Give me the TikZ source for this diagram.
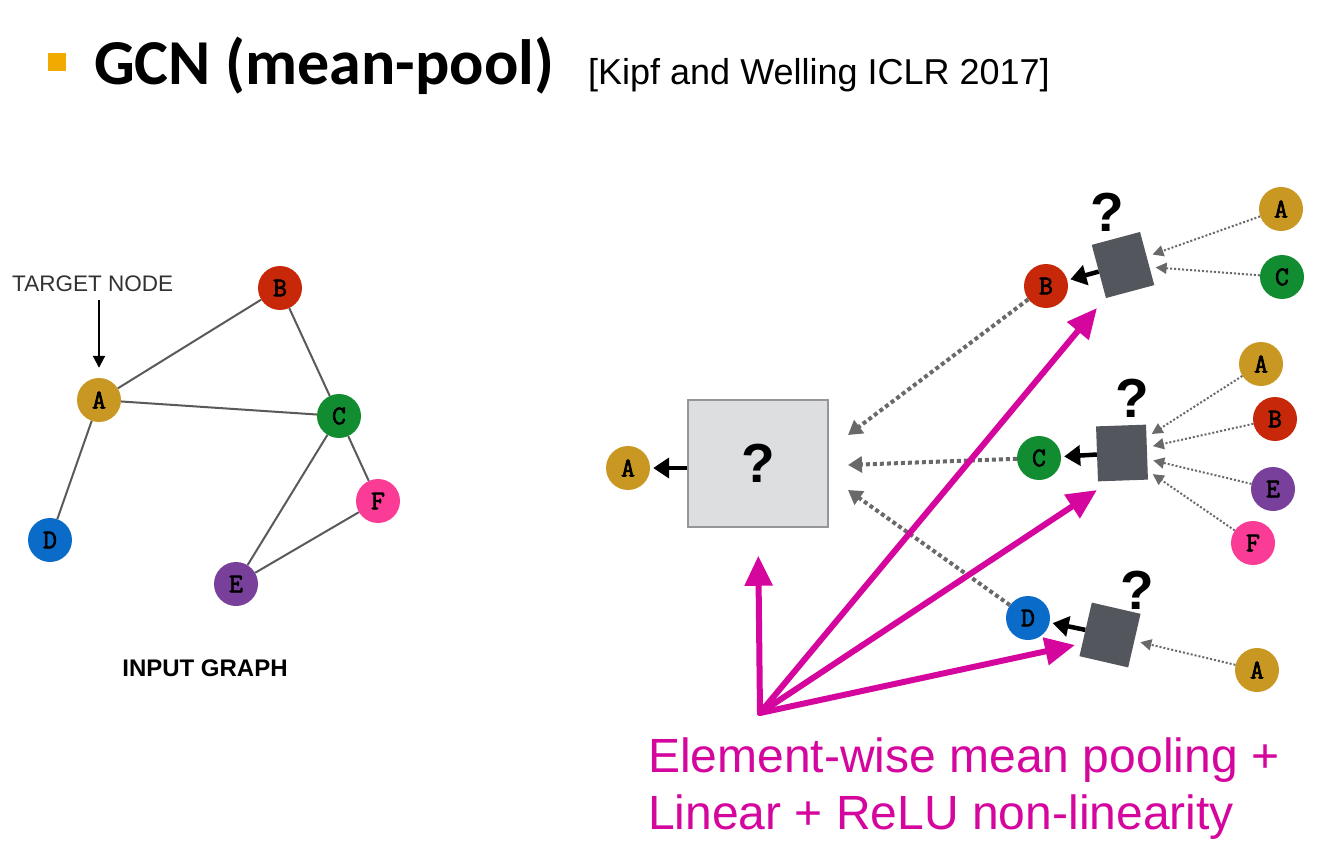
\documentclass[tikz,border=0pt]{standalone}
\usepackage{fontspec}
\setmainfont{Liberation Sans}
\newfontfamily\carl{Carlito}
\newfontfamily\courb[FakeBold=2.5]{Latin Modern Mono}
\usetikzlibrary{arrows.meta}
\definecolor{cA}{RGB}{201,152,35}
\definecolor{cB}{RGB}{200,40,10}
\definecolor{cC}{RGB}{18,140,48}
\definecolor{cD}{RGB}{10,108,200}
\definecolor{cE}{RGB}{120,64,155}
\definecolor{cF}{RGB}{250,60,150}
\definecolor{pinkc}{RGB}{212,6,158}
\definecolor{bulletc}{RGB}{240,170,0}
\definecolor{darkbox}{RGB}{83,86,92}
\definecolor{boxfill}{RGB}{220,222,224}
\definecolor{boxborder}{RGB}{150,150,150}
\definecolor{edgec}{RGB}{90,90,90}
\definecolor{dotc}{RGB}{105,105,105}
\definecolor{targetc}{RGB}{50,50,50}
\begin{document}
\begin{tikzpicture}[x=1pt,y=-1pt,
  gnode/.style={circle,minimum size=44pt,inner sep=0pt,font=\courb\fontsize{27}{27}\selectfont},
  gedge/.style={draw=edgec,line width=2pt},
  sbox/.style={fill=darkbox,minimum width=50pt,minimum height=55pt,inner sep=0pt},
  qmark/.style={inner sep=0pt,font=\bfseries\fontsize{55}{55}\selectfont},
  sdot/.style={draw=dotc,line width=2pt,dash pattern=on 2pt off 2pt,-{Triangle[length=11pt,width=11pt]},shorten >=6pt},
  bdot/.style={draw=dotc,line width=4pt,dash pattern=on 4pt off 3pt,-{Triangle[length=14pt,width=16pt]}},
  barrow/.style={draw=black,line width=4.5pt,-{Triangle[length=16pt,width=20pt]}},
  parrow/.style={draw=pinkc,line width=6pt,-{Triangle[length=30pt,width=27pt]}}
]
\useasboundingbox[fill=white] (0,0) rectangle (1342,861);

% title
\node[fill=bulletc,minimum size=18pt,inner sep=0pt] (bullet) at (57,62) {};
\node[anchor=base west,inner sep=0pt,font=\carl\bfseries\fontsize{64}{70}\selectfont] (title) at (94,85) {GCN (mean-pool)};
\node[anchor=base west,inner sep=0pt,font=\fontsize{36}{40}\selectfont] (cite) at (588,85) {[Kipf and Welling ICLR 2017]};

% input graph
\node[gnode,fill=cA] (lA) at (99,400) {A};
\node[gnode,fill=cB] (lB) at (280,288) {B};
\node[gnode,fill=cC] (lC) at (339,416) {C};
\node[gnode,fill=cD] (lD) at (50,540) {D};
\node[gnode,fill=cE] (lE) at (236,584) {E};
\node[gnode,fill=cF] (lF) at (378,501) {F};
\draw[gedge] (lA) -- (lB);
\draw[gedge] (lA) -- (lC);
\draw[gedge] (lA) -- (lD);
\draw[gedge] (lB) -- (lC);
\draw[gedge] (lC) -- (lE);
\draw[gedge] (lC) -- (lF);
\draw[gedge] (lE) -- (lF);

\node[anchor=base west,inner sep=0pt,text=targetc,font=\fontsize{22.5}{24}\selectfont] (target) at (12,291) {TARGET NODE};
\draw[line width=2pt,-{Triangle[length=12pt,width=12pt]},shorten <=9pt,shorten >=10pt] (target.south -| lA.north) -- (lA.north);
\node[inner sep=0pt,font=\bfseries\fontsize{24}{24}\selectfont] (inlabel) at (205,668) {INPUT GRAPH};

% computation graph
\node[draw=boxborder,fill=boxfill,line width=1.5pt,minimum width=140pt,minimum height=127pt,inner sep=0pt,qmark] (big) at (758,463.5) {?};
\node[gnode,fill=cA] (rA) at (628,468) {A};
\draw[barrow,shorten >=3pt] (big.west |- rA) -- (rA);

\node[gnode,fill=cB] (rB) at (1046,286) {B};
\node[gnode,fill=cC] (rC) at (1039,458) {C};
\node[gnode,fill=cD] (rD) at (1028,618) {D};

\node[sbox,rotate=15] (s1) at (1123,265) {};
\node[sbox,rotate=2] (s2) at (1122,453) {};
\node[sbox,rotate=-13] (s3) at (1110,635) {};
\node[qmark] (q1) at (1107,212) {?};
\node[qmark] (q2) at (1132,398) {?};
\node[qmark] (q3) at (1137,590) {?};

\node[gnode,fill=cA] (a1) at (1281,209) {A};
\node[gnode,fill=cC] (c1) at (1282,277) {C};
\node[gnode,fill=cA] (a2) at (1261,364) {A};
\node[gnode,fill=cB] (b2) at (1275,419) {B};
\node[gnode,fill=cE] (e2) at (1273,489) {E};
\node[gnode,fill=cF] (f2) at (1253,543) {F};
\node[gnode,fill=cA] (a3) at (1257,670) {A};

\draw[sdot] (a1) -- (s1);
\draw[sdot] (c1) -- (s1);
\draw[sdot] (a2) -- (s2);
\draw[sdot] (b2) -- (s2);
\draw[sdot] (e2) -- (s2);
\draw[sdot] (f2) -- (s2);
\draw[sdot] (a3) -- (s3);

\draw[barrow,shorten >=3pt] (s1) -- (rB);
\draw[barrow,shorten >=3pt] (s2) -- (rC);
\draw[barrow,shorten >=3pt] (s3) -- (rD);

\coordinate (t1) at (848,435);
\coordinate (t2) at (848,465);
\coordinate (t3) at (848,490);
\draw[bdot] (rB) -- (t1);
\draw[bdot] (rC) -- (t2);
\draw[bdot] (rD) -- (t3);

% pink arrows
\coordinate (po) at (760,713);
\coordinate (p1) at (1097,308);
\coordinate (p2) at (1097,490);
\coordinate (p3) at (1075,645);
\draw[parrow,line cap=round,shorten >=28pt] (po) -- (big.south);
\draw[parrow,line cap=round] (po) -- (p1);
\draw[parrow,line cap=round] (po) -- (p2);
\draw[parrow,line cap=round] (po) -- (p3);

\node[anchor=base west,inner sep=0pt,text=pinkc,font=\fontsize{48}{57}\selectfont] (pink1) at (648,772) {Element-wise mean pooling +};
\node[anchor=base west,inner sep=0pt,text=pinkc,font=\fontsize{48}{57}\selectfont] (pink2) at (648,829) {Linear + ReLU non-linearity};
\end{tikzpicture}
\end{document}
